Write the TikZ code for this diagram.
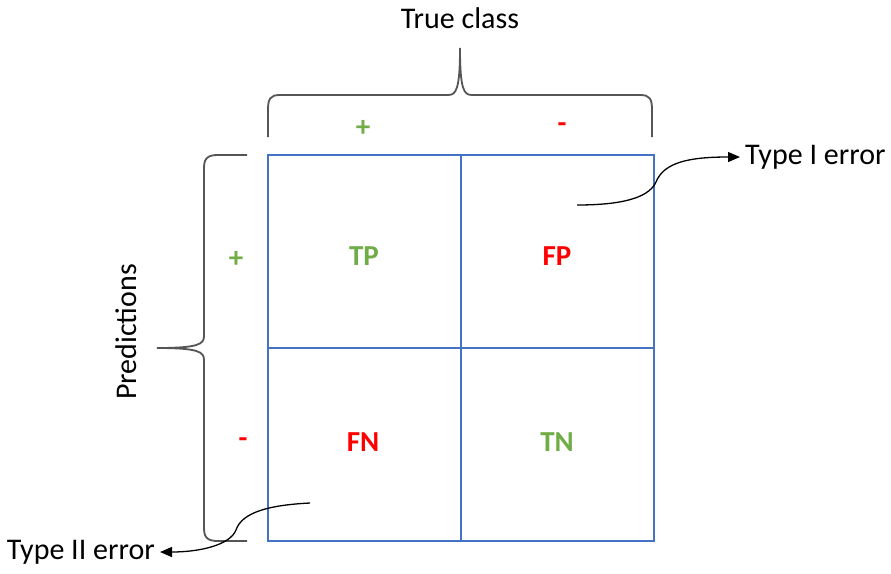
\documentclass[tikz,border=0pt]{standalone}
\usepackage{fontspec}
\setmainfont{Carlito}
\usetikzlibrary{arrows.meta}
\definecolor{gridblue}{HTML}{4472C4}
\definecolor{posgreen}{HTML}{70AD47}
\definecolor{negred}{HTML}{FF0000}
\definecolor{bracegray}{HTML}{555555}
\tikzset{
  cellline/.style={draw=gridblue,line width=2.3pt},
  bracepath/.style={draw=bracegray,line width=1.8pt},
  lbl/.style={font=\fontsize{30}{34}\selectfont,text=black,inner sep=0pt},
  cellsym/.style={font=\fontsize{29}{32}\selectfont\bfseries,inner sep=0pt},
  errcurve/.style={draw=black,line width=1.3pt,-{Triangle[length=12pt,width=10pt]}},
}
\begin{document}
\begin{tikzpicture}[x=1pt,y=-1pt]
\useasboundingbox (0,0) rectangle (891,573);
% grid
\draw[cellline] (268,155) rectangle (654,541);
\draw[cellline] (461,155) -- (461,541);
\draw[cellline] (268,348) -- (654,348);
% cell labels
\node[cellsym,text=posgreen] (tp) at (364,256) {TP};
\node[cellsym,text=negred] (fp) at (557,256) {FP};
\node[cellsym,text=negred] (fn) at (363,442) {FN};
\node[cellsym,text=posgreen] (tn) at (557,442) {TN};
% class signs
\node[cellsym,text=posgreen] (tplus) at (363,128) {+};
\node[cellsym,text=negred] (tminus) at (562,128) {-};
\node[cellsym,text=posgreen] (pplus) at (236,259) {+};
\node[cellsym,text=negred] (pminus) at (243,443) {-};
% titles
\node[lbl] (trueclass) at (460,18) {True class};
\node[lbl,rotate=90] (pred) at (126,332) {Predictions};
% top brace
\draw[bracepath] (268,137) -- (268,110) .. controls (268,99) and (270,95) .. (280,95)
  -- (448,95) .. controls (456,95) and (460,90) .. (460,48)
  .. controls (460,90) and (464,95) .. (472,95) -- (640,95)
  .. controls (650,95) and (652,99) .. (652,110) -- (652,137);
% left brace
\draw[bracepath] (247,155) -- (218,155) .. controls (208,155) and (204,158) .. (204,168)
  -- (204,336) .. controls (204,344) and (199,348) .. (157,348)
  .. controls (199,348) and (204,352) .. (204,360) -- (204,528)
  .. controls (204,538) and (208,541) .. (218,541) -- (247,541);
% error labels
\node[lbl,anchor=west,inner xsep=5pt] (t1) at (740,157) {Type I error};
\node[lbl,anchor=east,inner xsep=5pt] (t2) at (160,552) {Type II error};
\coordinate (s1) at (577,205);
\coordinate (s2) at (310,503);
\draw[errcurve] (s1) .. controls (630,205) and (650,195) .. (656,182)
  .. controls (664,162) and (690,157) .. (t1.west);
\draw[errcurve] (s2) .. controls (270,505) and (242,512) .. (236,530)
  .. controls (230,545) and (200,552) .. (t2.east);
\end{tikzpicture}
\end{document}
